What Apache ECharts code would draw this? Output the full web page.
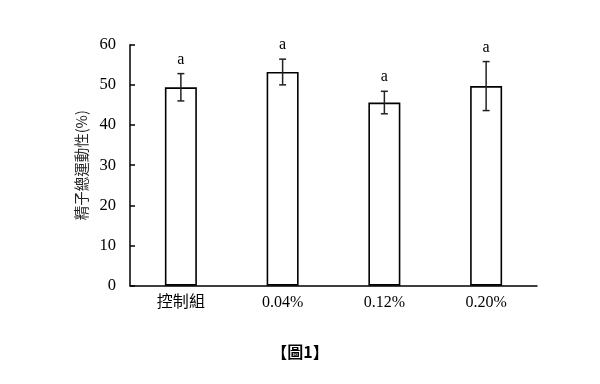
<!DOCTYPE html>
<html><head><meta charset="utf-8">
<script src="https://cdn.jsdelivr.net/npm/echarts@6/dist/echarts.min.js"></script>
<style>html,body{margin:0;padding:0;background:#fff}#c{width:600px;height:384px}</style>
</head><body><div id="c"></div>
<script>
const categories = ['控制組', '0.04%', '0.12%', '0.20%'];
const means = [49.4, 53.2, 45.6, 49.7];
const errors = [3.4, 3.2, 2.8, 6.1];
const sigLabels = ['a', 'a', 'a', 'a'];
const yTicks = [0, 10, 20, 30, 40, 50, 60];

const chart = echarts.init(document.getElementById('c'), null, {renderer: 'canvas'});
const serif = '"Liberation Serif", "Times New Roman", serif';
const cjk = '"Noto Sans CJK TC", sans-serif';

chart.setOption({
  animation: false,
  backgroundColor: '#fff',
  grid: {left: 130, right: 63, top: 44.7, bottom: 98.3},
  xAxis: {
    type: 'category', data: categories,
    axisLine: {lineStyle: {color: '#000', width: 1.5}},
    axisTick: {show: false},
    axisLabel: {color: '#000', fontSize: 16, fontFamily: serif + ',' + cjk, margin: 9}
  },
  yAxis: {
    type: 'value', min: yTicks[0], max: yTicks[yTicks.length - 1], interval: 10,
    name: '精子總運動性(%)', nameLocation: 'middle', nameGap: 32, nameRotate: 90,
    nameTextStyle: {color: '#222', fontSize: 14.5, fontFamily: cjk},
    axisLine: {show: true, lineStyle: {color: '#000', width: 1.5}},
    axisTick: {show: true, inside: true, length: 5, lineStyle: {color: '#000', width: 1.5}},
    splitLine: {show: false},
    axisLabel: {color: '#000', fontSize: 16.5, fontFamily: serif, margin: 14}
  },
  series: [
    {
      type: 'bar', data: means, barWidth: 32,
      itemStyle: {color: '#fff', borderColor: '#000', borderWidth: 1.6}
    },
    {
      type: 'custom',
      data: means.map((m, i) => [i, m - errors[i], m + errors[i]]),
      renderItem: function (params, api) {
        const i = api.value(0);
        const lo = api.coord([i, api.value(1)]);
        const hi = api.coord([i, api.value(2)]);
        const cap = 3.5;
        const style = {stroke: '#222', lineWidth: 1.5};
        return {
          type: 'group',
          children: [
            {type: 'line', shape: {x1: lo[0], y1: lo[1], x2: hi[0], y2: hi[1]}, style: style},
            {type: 'line', shape: {x1: lo[0] - cap, y1: lo[1], x2: lo[0] + cap, y2: lo[1]}, style: style},
            {type: 'line', shape: {x1: hi[0] - cap, y1: hi[1], x2: hi[0] + cap, y2: hi[1]}, style: style},
            {type: 'text', style: {x: hi[0], y: hi[1] - 6, text: sigLabels[i], textAlign: 'center', textVerticalAlign: 'bottom', fill: '#000', font: '16px ' + serif}}
          ]
        };
      },
      z: 5
    }
  ],
  graphic: [{
    type: 'text', left: 'center', top: 344,
    style: {text: '【圖1】', fill: '#000', font: 'bold 16px ' + cjk}
  }]
});
</script></body></html>
